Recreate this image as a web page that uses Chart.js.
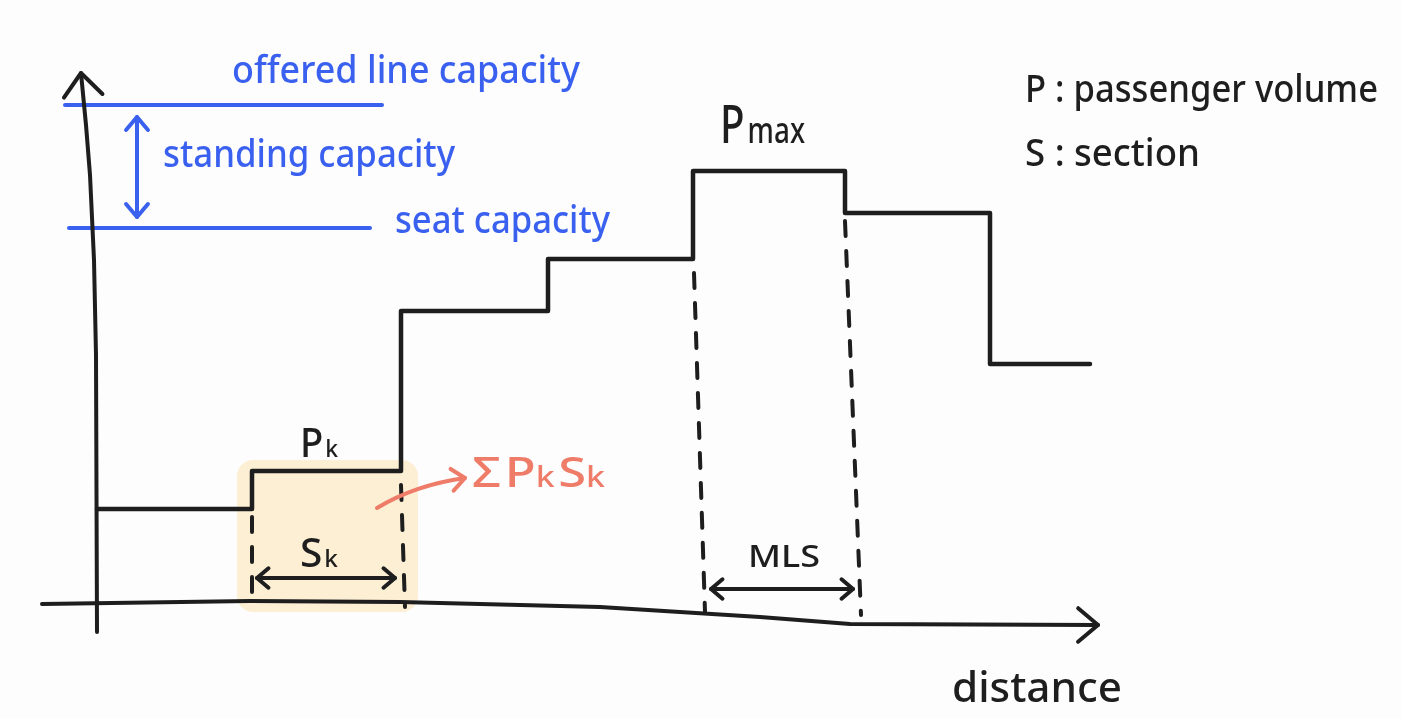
<!DOCTYPE html>
<html lang="en">
<head>
<meta charset="UTF-8">
<title>Passenger volume by section</title>
<script src="https://cdn.jsdelivr.net/npm/chart.js"></script>
<style>
    html, body { margin: 0; padding: 0; background: #fdfdfd; }
    .chart-box { position: relative; width: 1401px; height: 719px; }
</style>
</head>
<body>
<div class="chart-box"><canvas id="loadChart" width="1401" height="719"></canvas></div>
<script>
// section boundaries along the line (distance units) and passenger volume on each section
var sectionStart = [0, 155, 304, 451, 596, 748, 893, 993];
var sectionVolume = [96, 134, 294, 346, 434, 392, 241];
// capacities (same units as volume)
var capacityLabels = ['offered line capacity', 'seat capacity'];
var capacityValues = [500, 377];
var legendLines = ['P : passenger volume', 'S : section'];
var kIndex = 1;    // the highlighted section k
var maxIndex = 4;  // the section carrying Pmax

var INK = '#1e1e1e', BLUE = '#3a60f0', SALMON = '#ee7c69', HIGHLIGHT = '#fcefd4';
var FONT = '"Noto Sans", sans-serif';

function pt(chart, x, y) {
    return [chart.scales.x.getPixelForValue(x), chart.scales.y.getPixelForValue(y)];
}

function stroke(ctx, pts, color, width, dash) {
    ctx.save();
    ctx.strokeStyle = color;
    ctx.lineWidth = width;
    ctx.lineCap = 'round';
    ctx.lineJoin = 'round';
    ctx.setLineDash(dash || []);
    ctx.beginPath();
    pts.forEach(function (q, i) { if (i) ctx.lineTo(q[0], q[1]); else ctx.moveTo(q[0], q[1]); });
    ctx.stroke();
    ctx.restore();
}

function head(ctx, tip, from, color, width, len) {
    var a = Math.atan2(tip[1] - from[1], tip[0] - from[0]);
    var s = 0.7;
    stroke(ctx, [
        [tip[0] - len * Math.cos(a - s), tip[1] - len * Math.sin(a - s)],
        tip,
        [tip[0] - len * Math.cos(a + s), tip[1] - len * Math.sin(a + s)]
    ], color, width);
}

function arrow(ctx, chart, pts, color, width, len, both) {
    var p = pts.map(function (d) { return pt(chart, d[0], d[1]); });
    stroke(ctx, p, color, width);
    head(ctx, p[p.length - 1], p[p.length - 2], color, width, len);
    if (both) head(ctx, p[0], p[1], color, width, len);
}

// parts: [text, size] pieces sharing one baseline, fitted to a width in px
function label(ctx, chart, parts, x, y, width, color) {
    ctx.save();
    var widths = parts.map(function (p) {
        ctx.font = '500 ' + p[1] + 'px ' + FONT;
        return ctx.measureText(p[0]).width + (p[2] || 0);
    });
    var total = widths.reduce(function (a, b) { return a + b; }, 0);
    var q = pt(chart, x, y);
    ctx.translate(q[0], q[1]);
    ctx.scale(width / total, 1);
    ctx.fillStyle = color;
    ctx.textBaseline = 'alphabetic';
    var cx = 0;
    parts.forEach(function (p, i) {
        ctx.font = '500 ' + p[1] + 'px ' + FONT;
        ctx.fillText(p[0], cx, 0);
        cx += widths[i];
    });
    ctx.restore();
}

var sketch = {
    id: 'sketch',
    beforeDatasetsDraw: function (chart) {
        var ctx = chart.ctx;
        // shaded area of section k
        var a = pt(chart, sectionStart[kIndex] - 15, sectionVolume[kIndex] + 11);
        var b = pt(chart, sectionStart[kIndex + 1] + 17, -7);
        ctx.save();
        ctx.fillStyle = HIGHLIGHT;
        ctx.beginPath();
        ctx.roundRect(a[0], a[1], b[0] - a[0], b[1] - a[1], 16);
        ctx.fill();
        ctx.restore();
    },
    afterDatasetsDraw: function (chart) {
        var ctx = chart.ctx;
        var s = sectionStart, v = sectionVolume;

        // axes
        arrow(ctx, chart, [[0, -27], [-1, 250], [-3, 345], [-7, 430], [-11, 480], [-16, 532]], INK, 4, 30);
        arrow(ctx, chart, [[-55, 1], [153, 4], [303, 3], [503, -2], [663, -12], [753, -19], [1001, -20]], INK, 4, 26);

        // dashed section boundaries
        var d = [15, 15];
        stroke(ctx, [pt(chart, s[kIndex], v[kIndex - 1] - 8), pt(chart, s[kIndex], -2)], INK, 4, d);
        stroke(ctx, [pt(chart, s[kIndex + 1], v[kIndex] - 14), pt(chart, s[kIndex + 1] + 4, -2)], INK, 4, d);
        stroke(ctx, [pt(chart, s[maxIndex] + 1, v[maxIndex - 1] - 14), pt(chart, s[maxIndex] + 12, -7)], INK, 4, d);
        stroke(ctx, [pt(chart, s[maxIndex + 1], v[maxIndex + 1] - 8), pt(chart, s[maxIndex + 1] + 16, -10)], INK, 4, d);

        // span arrows
        arrow(ctx, chart, [[s[kIndex] + 5, 27], [s[kIndex + 1] - 6, 27]], INK, 4, 15, true);
        arrow(ctx, chart, [[s[maxIndex] + 18, 16], [s[maxIndex + 1] + 8, 16]], INK, 4, 15, true);
        arrow(ctx, chart, [[40, capacityValues[0] - 12], [40, capacityValues[1] + 11]], BLUE, 4, 17, true);

        // pointer to the sum
        var p0 = pt(chart, 280, 97), pc = pt(chart, 318, 120), p1 = pt(chart, 368, 127);
        ctx.save();
        ctx.strokeStyle = SALMON; ctx.lineWidth = 4; ctx.lineCap = 'round';
        ctx.beginPath(); ctx.moveTo(p0[0], p0[1]); ctx.quadraticCurveTo(pc[0], pc[1], p1[0], p1[1]); ctx.stroke();
        ctx.restore();
        head(ctx, p1, pc, SALMON, 4, 17);

        // text
        label(ctx, chart, [[capacityLabels[0], 38]], 135, 522, 348, BLUE);
        label(ctx, chart, [['standing capacity', 38]], 66, 438, 292, BLUE);
        label(ctx, chart, [[capacityLabels[1], 38]], 298, 372, 215, BLUE);
        label(ctx, chart, [[legendLines[0], 38]], 928, 503, 353, INK);
        label(ctx, chart, [[legendLines[1], 38]], 928, 439, 175, INK);
        label(ctx, chart, [['P', 52, 4], ['max', 36]], 623, 462, 85, INK);
        label(ctx, chart, [['P', 40, 2], ['k', 24]], 203, 148, 38, INK);
        label(ctx, chart, [['S', 40, 2], ['k', 24]], 203, 38, 38, INK);
        label(ctx, chart, [['Σ', 42, 3], ['P', 42], ['k', 28, 3], ['S', 42], ['k', 28]], 375, 118, 133, SALMON);
        label(ctx, chart, [['MLS', 30]], 651, 38, 72, INK);
        label(ctx, chart, [['distance', 42]], 855, -97, 170, INK);
    }
};

var stepPoints = sectionStart.map(function (x, i) {
    return { x: x, y: sectionVolume[Math.min(i, sectionVolume.length - 1)] };
});

var chart = new Chart(document.getElementById('loadChart'), {
    type: 'line',
    data: {
        datasets: [{
            label: 'passenger volume',
            data: stepPoints,
            stepped: 'before',
            borderColor: INK,
            borderWidth: 4.5,
            borderJoinStyle: 'round',
            borderCapStyle: 'round',
            pointRadius: 0,
            clip: false
        }, {
            label: capacityLabels[0],
            data: [{ x: -32, y: capacityValues[0] }, { x: 285, y: capacityValues[0] }],
            borderColor: BLUE,
            borderWidth: 4,
            borderCapStyle: 'round',
            pointRadius: 0,
            clip: false
        }, {
            label: capacityLabels[1],
            data: [{ x: -28, y: capacityValues[1] }, { x: 273, y: capacityValues[1] }],
            borderColor: BLUE,
            borderWidth: 4,
            borderCapStyle: 'round',
            pointRadius: 0,
            clip: false
        }]
    },
    options: {
        responsive: false,
        animation: false,
        layout: { padding: { left: 97, right: 301, top: 75, bottom: 114 } },
        plugins: { legend: { display: false }, tooltip: { enabled: false } },
        scales: {
            x: { type: 'linear', min: 0, max: 1003, display: false },
            y: { type: 'linear', min: 0, max: 530, display: false }
        }
    },
    plugins: [sketch]
});
</script>
</body>
</html>
